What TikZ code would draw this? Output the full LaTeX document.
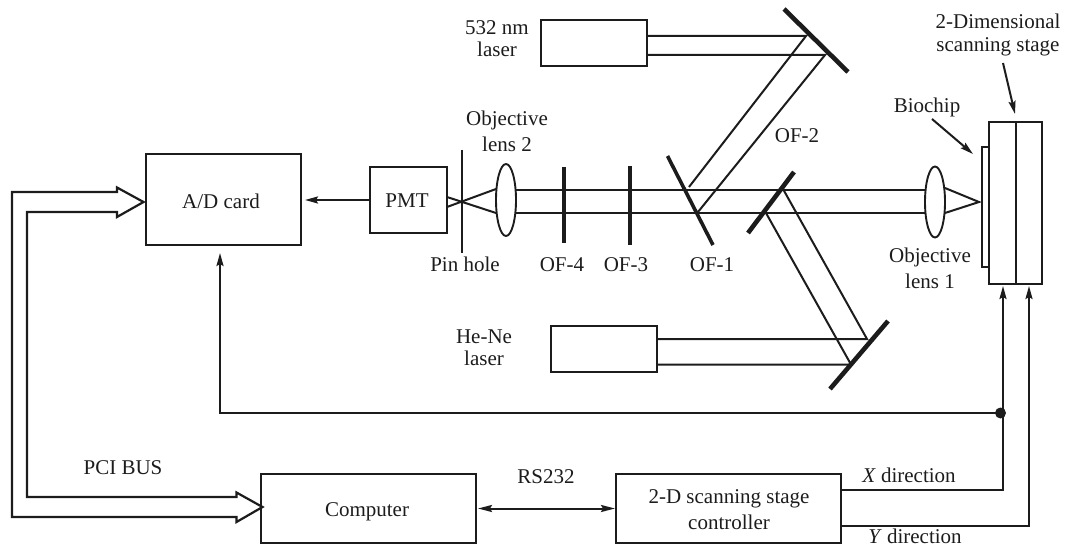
\documentclass[tikz,border=0pt]{standalone}
\usepackage{fontspec}
\setmainfont{Liberation Serif}
\usetikzlibrary{arrows.meta,shapes.geometric}
\definecolor{ink}{HTML}{1C1C1C}
\tikzset{
  lbl/.style={anchor=base,inner sep=0pt,outer sep=0pt,text=ink,align=center,font=\fontsize{21}{#1}\selectfont},
  lbl/.default=24,
  box/.style={draw=ink,line width=2.2pt,rectangle,inner sep=0pt,outer sep=0pt,minimum width=#1},
  lens/.style={draw=ink,line width=1.9pt,ellipse,inner sep=0pt,outer sep=0pt},
  beam/.style={draw=ink,line width=2pt},
  mirror/.style={draw=ink,line width=4.6pt},
  filter/.style={draw=ink,line width=3.6pt},
  wire/.style={draw=ink,line width=2pt},
  arr/.style={wire,-{Stealth[length=13pt,width=7pt,inset=2pt]}},
  darr/.style={wire,{Stealth[length=14pt,width=7pt,inset=2pt]}-{Stealth[length=14pt,width=7pt,inset=2pt]}},
  bus/.style={draw=ink,line width=2.2pt,line join=miter},
}
\begin{document}
\begin{tikzpicture}[x=1pt,y=-1pt]
\useasboundingbox (0,0) rectangle (1066,548);
% boxes
\node[box=155pt,minimum height=91pt] (adcard) at (223.5,199.5) {};
\node[box=77pt,minimum height=66pt] (pmt) at (408.5,200) {};
\node[box=215pt,minimum height=69pt] (computer) at (368.5,508.5) {};
\node[box=225pt,minimum height=69pt] (controller) at (728.5,508.5) {};
\node[box=106pt,minimum height=46pt] (greenlaser) at (594,43) {};
\node[box=106pt,minimum height=46pt] (helaser) at (604,349) {};
\node[box=7pt,minimum height=120pt,line width=1.5pt] (biochip) at (985.5,207) {};
\node[box=53pt,minimum height=162pt] (stage) at (1015.5,203) {};
\coordinate (divtop) at (1016,122);
\coordinate (divbot) at (1016,284);
\draw[wire] (divtop) -- (divbot);
% lenses
\node[lens,minimum width=20pt,minimum height=72pt] (lenstwo) at (506,200) {};
\node[lens,minimum width=20pt,minimum height=71pt] (lensone) at (935,202) {};
% optical coordinates
\coordinate (pinA) at (462,150); \coordinate (pinB) at (462,253);
\coordinate (ofivA) at (564,167); \coordinate (ofivB) at (564,243);
\coordinate (ofiiiA) at (630,166); \coordinate (ofiiiB) at (630,245);
\coordinate (ofiA) at (667.5,156); \coordinate (ofiB) at (713,245);
\coordinate (mtopA) at (784,9); \coordinate (mtopB) at (848,72);
\coordinate (mmidA) at (748,233); \coordinate (mmidB) at (794,172);
\coordinate (mlowA) at (830,389); \coordinate (mlowB) at (888,321);
\coordinate (focus) at (979,202);
% pinhole
\draw[wire] (pinA) -- (pinB);
\coordinate (pa) at (447,197); \coordinate (pb) at (496,213);
\coordinate (pc) at (447,207); \coordinate (pd) at (496,189);
\draw[beam] (pa) -- (pb);
\draw[beam] (pc) -- (pd);
% main beams
\coordinate (bl1) at (516,190); \coordinate (bl2) at (516,213);
\coordinate (br1) at (925,190); \coordinate (br2) at (925,213);
\draw[beam] (bl1) -- (br1);
\draw[beam] (bl2) -- (br2);
% green path
\coordinate (g1) at (647,36); \coordinate (g2) at (806,36);
\coordinate (g3) at (647,55); \coordinate (g4) at (825,55);
\coordinate (g5) at (689,187); \coordinate (g6) at (698,212);
\draw[beam] (g1) -- (g2) -- (g5);
\draw[beam] (g3) -- (g4) -- (g6);
% He-Ne path
\coordinate (h1) at (657,339); \coordinate (h2) at (867,339);
\coordinate (h3) at (657,364.5); \coordinate (h4) at (851,364.5);
\coordinate (h5) at (783,189); \coordinate (h6) at (766,213);
\draw[beam] (h1) -- (h2) -- (h5);
\draw[beam] (h3) -- (h4) -- (h6);
% mirrors and filters
\draw[filter] (ofivA) -- (ofivB);
\draw[filter] (ofiiiA) -- (ofiiiB);
\draw[filter] (ofiA) -- (ofiB);
\draw[mirror] (mtopA) -- (mtopB);
\draw[mirror] (mmidA) -- (mmidB);
\draw[mirror] (mlowA) -- (mlowB);
% focusing cone
\coordinate (c1) at (945,188); \coordinate (c2) at (945,213);
\draw[beam] (c1) -- (focus) -- (c2);
% signal connectors
\draw[arr,shorten >=4pt] (pmt.west) -- (pmt.west -| adcard.east);
\coordinate (junction) at (1000.5,413);
\coordinate (wirecorner) at (220,413);
\coordinate (adin) at (220,253);
\coordinate (xc) at (1003,490);
\coordinate (xt) at (1003,286);
\coordinate (yc) at (1029,526);
\coordinate (yt) at (1029,286);
\draw[arr] (junction) -- (wirecorner) -- (adin);
\draw[arr] (controller.east |- xc) -- (xc) -- (xt);
\draw[arr] (controller.east |- yc) -- (yc) -- (yt);
\fill[ink] (junction) circle (5.5pt);
\draw[darr,shorten <=2pt,shorten >=1pt] (computer.east) -- (controller.west);
% callouts
\coordinate (bioA) at (932,119); \coordinate (bioB) at (973,154);
\coordinate (dimA) at (1003,63); \coordinate (dimB) at (1015,114);
\draw[arr] (bioA) -- (bioB);
\draw[arr] (dimA) -- (dimB);
% PCI bus hollow arrow
\draw[bus] (12,192) -- (117,192) -- (117,187.5) -- (143.5,202) -- (117,217) -- (117,212) -- (27,212) -- (27,497) -- (236.5,497) -- (236.5,492.5) -- (262.5,507) -- (236.5,522) -- (236.5,517) -- (12,517) -- cycle;
% labels
\node[lbl] (tad) at (221,209) {A/D card};
\node[lbl] (tpmt) at (407,208) {PMT};
\node[lbl] (tcomp) at (367,516) {Computer};
\node[lbl] (tpci) at (123,474) {PCI BUS};
\node[lbl] (trs) at (546,483) {RS232};
\node[lbl=26] (tctrl) at (729,529) {2-D scanning stage\\controller};
\node[lbl] (txd) at (909,482) {\textit{X} direction};
\node[lbl] (tyd) at (915,543.5) {\textit{Y} direction};
\node[lbl=22] (tgreen) at (497,57) {532 nm\\laser};
\node[lbl=22] (the) at (484,365) {He-Ne\\laser};
\node[lbl=26] (tobjtwo) at (507,152) {Objective\\lens 2};
\node[lbl=25] (tobjone) at (930,288) {Objective\\lens 1};
\node[lbl] (tpin) at (465,272) {Pin hole};
\node[lbl] (tofiv) at (562,272) {OF-4};
\node[lbl] (tofiii) at (626,272) {OF-3};
\node[lbl] (tofi) at (712,272) {OF-1};
\node[lbl] (tofii) at (797,143) {OF-2};
\node[lbl] (tbio) at (927,113) {Biochip};
\node[lbl=23] (tdim) at (998,52) {2-Dimensional\\scanning stage};
\end{tikzpicture}
\end{document}
